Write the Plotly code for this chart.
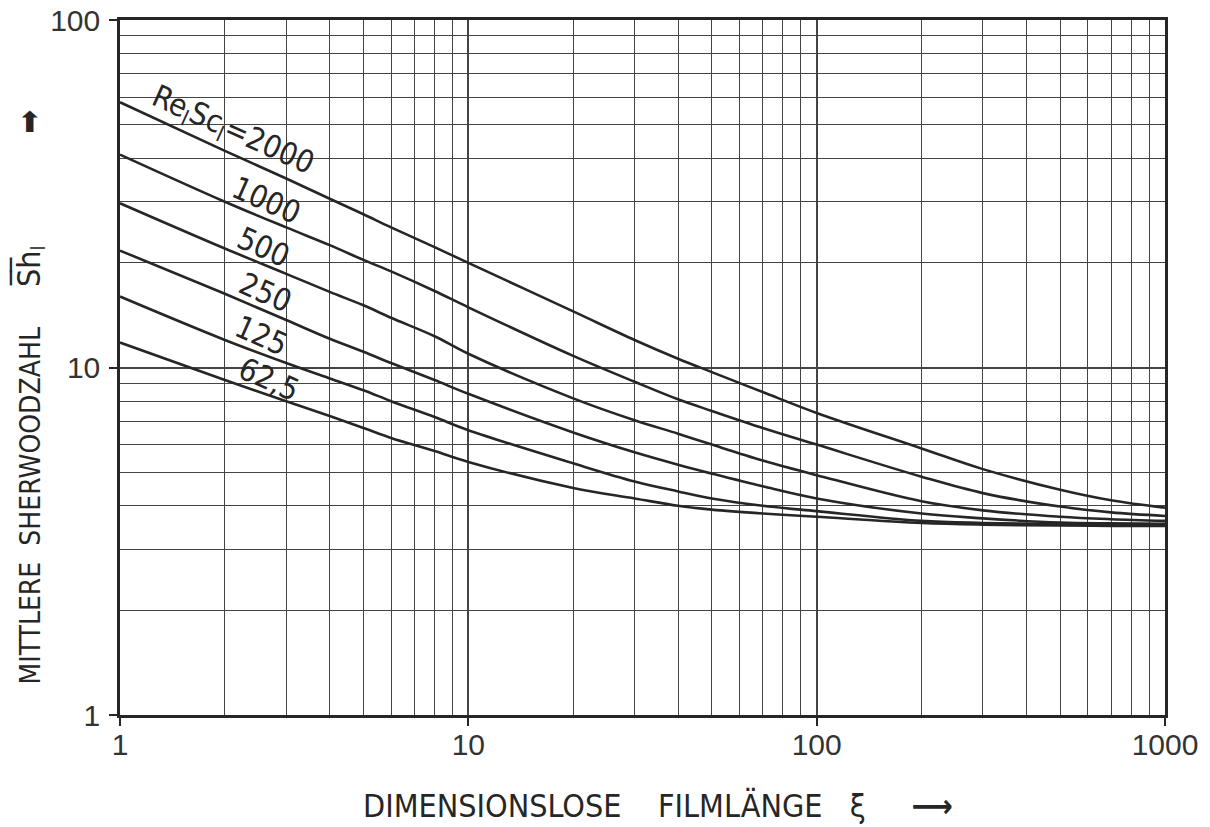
import math
import plotly.graph_objects as go

# ---- data ----
xi = [1, 2, 3, 4, 5, 6, 8, 10, 20, 30, 40, 50, 70, 100, 200, 300, 500, 700, 1000]
sh_2000 = [58, 42, 35, 30.6, 27.6, 25.3, 22.2, 20.0, 14.5, 12.0, 10.6, 9.7, 8.5, 7.4, 5.85, 5.1, 4.45, 4.15, 3.95]
sh_1000 = [41, 30, 25.3, 22.5, 20.4, 18.9, 16.6, 14.9, 10.8, 9.1, 8.1, 7.5, 6.7, 6.0, 4.85, 4.35, 3.98, 3.83, 3.74]
sh_500 = [29.7, 22.0, 18.6, 16.5, 15.1, 13.9, 12.3, 10.95, 8.15, 7.05, 6.45, 6.0, 5.4, 4.9, 4.12, 3.88, 3.72, 3.66, 3.62]
sh_250 = [21.7, 16.3, 13.7, 12.1, 11.1, 10.3, 9.2, 8.4, 6.5, 5.7, 5.25, 4.95, 4.55, 4.2, 3.8, 3.68, 3.58, 3.56, 3.55]
sh_125 = [16.0, 12.0, 10.3, 9.3, 8.6, 8.0, 7.2, 6.6, 5.3, 4.7, 4.4, 4.2, 4.0, 3.86, 3.62, 3.57, 3.54, 3.53, 3.52]
sh_62_5 = [11.8, 9.2, 8.0, 7.25, 6.7, 6.27, 5.75, 5.35, 4.5, 4.2, 4.0, 3.9, 3.8, 3.72, 3.57, 3.53, 3.51, 3.5, 3.5]

series = [sh_2000, sh_1000, sh_500, sh_250, sh_125, sh_62_5]
curve_labels = ["Re<sub>l</sub>Sc<sub>l</sub>=2000", "1000", "500", "250", "125", "62,5"]
label_x = [2.11, 2.64, 2.59, 2.61, 2.54, 2.68]
label_y = [47.9, 30.3, 22.2, 16.5, 12.4, 9.27]

x_major = [1, 10, 100, 1000]
x_major_text = ["1", "10", "100", "1000"]
x_minor = [m * d for d in (1, 10, 100) for m in range(2, 10)]
y_major = [1, 10, 100]
y_major_text = ["1", "10", "100"]
y_minor = [m * d for d in (1, 10) for m in range(2, 10)]

INK = "#262626"
GRID = "#444444"
FONT = "Liberation Sans Narrow, DejaVu Sans Condensed, Liberation Sans, sans-serif"
NB = "\u00a0"

fig = go.Figure()
for ys in series:
    fig.add_trace(go.Scatter(x=xi, y=ys, mode="lines",
                             line=dict(color=INK, width=2.6, shape="spline", smoothing=1.0),
                             showlegend=False, hoverinfo="skip"))

# annotations on log axes take log10 positions
for txt, lx, ly in zip(curve_labels, label_x, label_y):
    fig.add_annotation(x=math.log10(lx), y=math.log10(ly), xref="x", yref="y", text=txt,
                       showarrow=False, textangle=24,
                       font=dict(family=FONT, size=31, color=INK))

fig.add_annotation(x=0.515, y=-0.131, xref="paper", yref="paper",
                   xanchor="center", yanchor="middle",
                   text="DIMENSIONSLOSE" + NB * 4 + "FILMLÄNGE" + NB * 3 + "ξ" + NB * 5
                        + "<b>⟶</b>",
                   showarrow=False, font=dict(family=FONT, size=32, color=INK))
fig.add_annotation(x=-0.086, y=0.457, xref="paper", yref="paper",
                   xanchor="center", yanchor="middle",
                   text="MITTLERE" + NB * 2 + "SHERWOODZAHL" + NB * 5
                        + "<span style='font-size:32px'>S\u0305h\u0305</span><sub>l</sub>"
                        + NB * 14 + "<span style='font-size:32px'>➡</span>",
                   textangle=-90, showarrow=False, font=dict(family=FONT, size=28, color=INK))

axis_common = dict(
    type="log", showline=True, mirror=True, linecolor=INK, linewidth=2.5,
    showgrid=True, gridcolor=GRID, gridwidth=2.4,
    ticks="outside", ticklen=8, tickwidth=2, tickcolor=INK,
    tickfont=dict(family="Liberation Sans, DejaVu Sans, sans-serif", size=30, color="#333333"),
    zeroline=False, automargin=False,
)

fig.update_xaxes(range=[0, 3], tickmode="array", tickvals=x_major, ticktext=x_major_text,
                 ticklabelstandoff=-7,
                 minor=dict(tickmode="array", tickvals=x_minor, showgrid=True,
                            gridcolor=GRID, gridwidth=1.3, ticks=""),
                 **axis_common)
fig.update_yaxes(range=[0, 2], tickmode="array", tickvals=y_major, ticktext=y_major_text,
                 ticklabelstandoff=3,
                 minor=dict(tickmode="array", tickvals=y_minor, showgrid=True,
                            gridcolor=GRID, gridwidth=1.3, ticks=""),
                 **axis_common)

fig.update_layout(
    width=1210, height=827,
    margin=dict(l=120, r=45, t=20, b=112),
    paper_bgcolor="white", plot_bgcolor="white",
)

fig.write_html("out.html")
